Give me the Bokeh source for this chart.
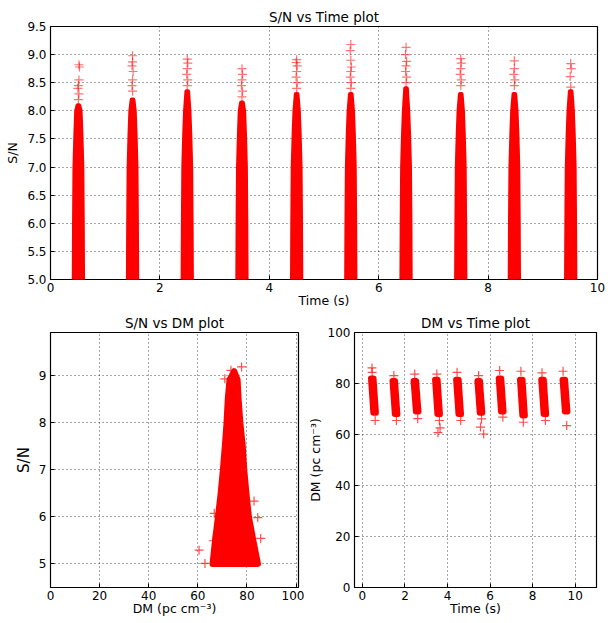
from bokeh.plotting import figure
from bokeh.layouts import column, row
from bokeh.models import FixedTicker, PrintfTickFormatter, Range1d
from bokeh.embed import file_html
from bokeh.resources import INLINE

RED = "#ff0000"
FONT = "DejaVu Sans"

# ---------------- S/N vs Time ----------------
burst_time = [0.51, 1.50, 2.50, 3.50, 4.50, 5.49, 6.50, 7.50, 8.48, 9.51]
# S/N level below which each burst is a solid cloud of detections
dense_top_sn = [8.1, 8.2, 8.35, 8.15, 8.3, 8.3, 8.4, 8.3, 8.3, 8.35]
env_sn = [5.0, 6.0, 7.0, 7.6, 8.0]
env_half_width = [0.085, 0.08, 0.072, 0.055, 0.04]   # seconds
top_half_width = 0.015
# sparse detections above the solid cloud
tail_time = [0.51, 0.52, 0.50, 0.51, 0.52, 0.53, 0.52,
             1.50, 1.49, 1.50, 1.51, 1.49, 1.50, 1.50,
             2.50, 2.51, 2.49, 2.50, 2.51, 2.50,
             3.50, 3.51, 3.49, 3.50, 3.51, 3.50,
             4.50, 4.51, 4.49, 4.50, 4.51, 4.49, 4.50,
             5.49, 5.50, 5.48, 5.49, 5.50, 5.49, 5.48, 5.49,
             6.50, 6.51, 6.49, 6.50, 6.51, 6.49, 6.50,
             7.50, 7.51, 7.49, 7.50, 7.51, 7.50,
             8.48, 8.49, 8.47, 8.48, 8.48,
             9.51, 9.50, 9.52, 9.51]
tail_sn = [8.2, 8.3, 8.4, 8.45, 8.55, 8.78, 8.82,
           8.35, 8.45, 8.55, 8.7, 8.8, 8.87, 8.98,
           8.45, 8.55, 8.65, 8.75, 8.85, 8.92,
           8.25, 8.35, 8.45, 8.55, 8.65, 8.75,
           8.4, 8.5, 8.6, 8.7, 8.8, 8.86, 8.91,
           8.4, 8.5, 8.6, 8.7, 8.78, 8.9, 9.07, 9.18,
           8.5, 8.6, 8.7, 8.8, 8.88, 9.0, 9.13,
           8.45, 8.55, 8.65, 8.75, 8.85, 8.93,
           8.45, 8.55, 8.65, 8.75, 8.89,
           8.42, 8.61, 8.75, 8.84]

# ---------------- S/N vs DM ----------------
cloud_sn = [5.0, 5.5, 6.0, 6.5, 7.0, 7.5, 8.0, 8.5, 8.9]
cloud_dm_left = [66.0, 67.0, 68.2, 69.3, 70.2, 71.0, 71.7, 72.2, 72.9]
cloud_dm_right = [84.5, 82.6, 80.8, 79.8, 78.9, 78.3, 77.3, 76.6, 76.2]
cloud_peak_dm = 74.8
cloud_peak_sn = 9.08
out_dm = [60.5, 62.9, 66.3, 66.7, 85.6, 84.4, 82.9, 77.8, 71.0, 73.5]
out_sn = [5.29, 5.01, 5.49, 6.07, 5.54, 5.98, 6.33, 9.17, 8.92, 9.10]

# ---------------- DM vs Time ----------------
blob_time = [0.52, 1.53, 2.52, 3.53, 4.52, 5.52, 6.52, 7.52, 8.52, 9.52]
blob_dm_hi = [82.0, 81.0, 81.0, 81.5, 81.5, 81.0, 82.0, 81.5, 81.5, 81.5]
blob_dm_lo = [68.5, 68.0, 69.0, 68.0, 68.0, 68.5, 69.0, 67.5, 68.0, 69.0]
blob_half_width = 0.06   # seconds
blob_drift = 0.055       # seconds, later arrival at low DM
pt_time = [0.45, 0.46, 0.60, 1.48, 1.60, 2.46, 2.60, 3.50, 3.62, 3.65, 3.55,
           4.45, 4.62, 5.46, 5.60, 5.55, 5.70, 6.45, 6.60, 7.45, 7.56,
           8.44, 8.60, 9.43, 9.60]
pt_dm = [86.1, 84.4, 65.5, 83.1, 65.5, 83.7, 66.2, 83.7, 65.5, 62.6, 60.7,
         84.4, 65.5, 83.1, 66.1, 62.9, 60.2, 85.1, 66.8, 84.8, 64.8,
         84.2, 65.5, 84.8, 63.5]


def style(p, xticks, yticks, xlabel, ylabel, yfmt=None):
    p.background_fill_color = "white"
    p.border_fill_color = "white"
    p.outline_line_color = "black"
    p.outline_line_width = 1.2
    p.outline_line_alpha = 1.0
    p.title.text_font = FONT
    p.title.text_font_size = "13.5px"
    p.title.text_font_style = "normal"
    p.title.align = "center"
    p.title.text_color = "black"
    p.title.standoff = 3
    xa, ya = p.xaxis[0], p.yaxis[0]
    xa.axis_label = xlabel
    ya.axis_label = ylabel
    for ax in (xa, ya):
        ax.axis_line_color = None
        ax.major_tick_in = 4
        ax.major_tick_out = 0
        ax.minor_tick_line_color = None
        ax.major_tick_line_color = "black"
        ax.major_label_text_font = FONT
        ax.major_label_text_font_size = "12px"
        ax.major_label_text_color = "black"
        ax.axis_label_text_font = FONT
        ax.axis_label_text_font_size = "12.5px"
        ax.axis_label_text_font_style = "normal"
        ax.axis_label_text_color = "black"
    xa.major_label_standoff = 3
    xa.axis_label_standoff = -2
    ya.major_label_standoff = 4
    ya.axis_label_standoff = 4
    xa.ticker = FixedTicker(ticks=xticks)
    ya.ticker = FixedTicker(ticks=yticks)
    if yfmt:
        ya.formatter = PrintfTickFormatter(format=yfmt)
    for g in (p.xgrid[0], p.ygrid[0]):
        g.grid_line_color = "black"
        g.grid_line_alpha = 0.7
        g.grid_line_dash = "1 3"
        g.grid_line_width = 1


# ---------- top figure ----------
p1 = figure(width=608, height=310, title="S/N vs Time plot",
            x_range=Range1d(0, 10), y_range=Range1d(5.0, 9.5),
            output_backend="svg", toolbar_location=None,
            min_border_left=50, min_border_right=11, min_border_top=26,
            min_border_bottom=30)
style(p1, [0, 2, 4, 6, 8, 10], [5.0, 5.5, 6.0, 6.5, 7.0, 7.5, 8.0, 8.5, 9.0, 9.5],
      "Time (s)", "S/N", "%.1f")

xs, ys = [], []
for t, top in zip(burst_time, dense_top_sn):
    left = [t - w for w in env_half_width] + [t - top_half_width]
    right = [t + top_half_width] + [t + w for w in reversed(env_half_width)]
    xs.append(left + right)
    ys.append(env_sn + [top, top] + list(reversed(env_sn)))
p1.patches(xs, ys, fill_color=RED, line_color=RED, line_width=4, line_join="round")
p1.scatter(tail_time, tail_sn, marker="cross", size=9, line_color=RED,
           line_alpha=0.55, line_width=1.2)

# ---------- bottom left ----------
p2 = figure(width=304, height=313, title="S/N vs DM plot",
            x_range=Range1d(0, 101), y_range=Range1d(4.5, 9.9),
            output_backend="svg", toolbar_location=None,
            min_border_left=50, min_border_right=6, min_border_top=22,
            min_border_bottom=36)
style(p2, [0, 20, 40, 60, 80, 100], [5, 6, 7, 8, 9], "DM (pc cm⁻³)", "S/N")
p2.yaxis[0].axis_label_text_font_size = "15px"
p2.yaxis[0].axis_label_standoff = 3
cx = cloud_dm_left + [cloud_peak_dm] + list(reversed(cloud_dm_right))
cy = cloud_sn + [cloud_peak_sn] + list(reversed(cloud_sn))
p2.patch(cx, cy, fill_color=RED, line_color=RED, line_width=6, line_join="round")
p2.scatter(out_dm, out_sn, marker="cross", size=9, line_color=RED,
           line_alpha=0.7, line_width=1.2)

# ---------- bottom right ----------
p3 = figure(width=304, height=313, title="DM vs Time plot",
            x_range=Range1d(-0.37, 11), y_range=Range1d(0, 100),
            output_backend="svg", toolbar_location=None,
            min_border_left=44, min_border_right=12, min_border_top=22,
            min_border_bottom=36)
style(p3, [0, 2, 4, 6, 8, 10], [0, 20, 40, 60, 80, 100], "Time (s)", "DM (pc cm⁻³)")
p3.yaxis[0].axis_label_standoff = 2
bx, by = [], []
for t, hi, lo in zip(blob_time, blob_dm_hi, blob_dm_lo):
    bx.append([t - blob_drift - blob_half_width, t - blob_drift + blob_half_width,
               t + blob_drift + blob_half_width, t + blob_drift - blob_half_width])
    by.append([hi, hi, lo, lo])
p3.patches(bx, by, fill_color=RED, line_color=RED, line_width=6, line_join="round")
p3.scatter(pt_time, pt_dm, marker="cross", size=9, line_color=RED,
           line_alpha=0.7, line_width=1.2)

layout = column(p1, row(p2, p3, spacing=0), spacing=0)
open("out.html", "w").write(file_html(layout, INLINE))
